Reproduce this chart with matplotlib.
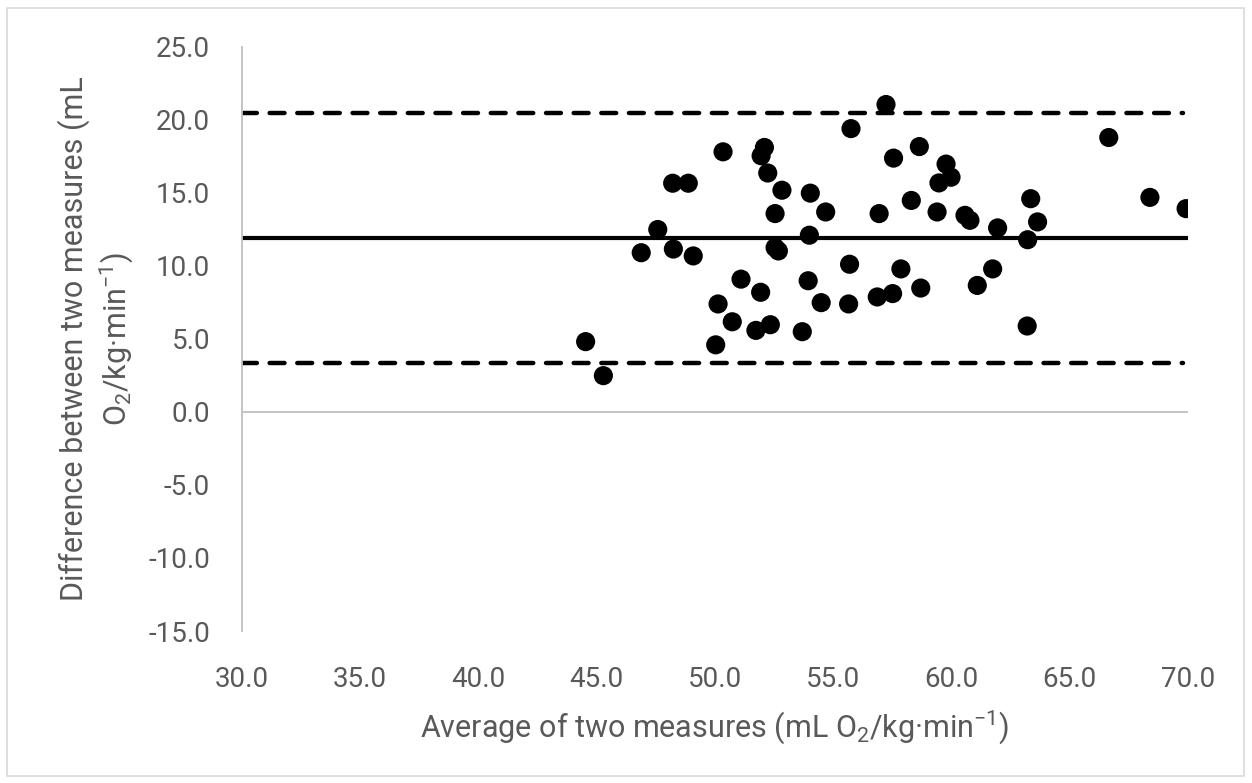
import numpy as np
import matplotlib
matplotlib.use('Agg')
import matplotlib.pyplot as plt
from matplotlib.patches import Rectangle
from matplotlib.ticker import FormatStrFormatter

# Bland-Altman data: average of two measures vs difference
avg = [44.53, 45.28, 46.88, 47.58, 48.24, 49.08, 48.21, 48.87, 50.03, 50.13,
       50.34, 50.73, 51.10, 51.73, 51.93, 51.95, 52.09, 52.23, 52.34, 52.54,
       52.54, 52.68, 52.83, 53.69, 53.94, 53.99, 54.03, 54.49, 54.68, 55.65,
       55.69, 55.75, 56.86, 56.94, 57.23, 57.51, 57.55, 57.86, 58.30, 58.64,
       58.70, 59.39, 59.47, 59.77, 59.98, 60.57, 60.78, 61.09, 61.74, 61.95,
       63.20, 63.22, 63.35, 63.64, 66.65, 68.39, 69.92]
diff = [4.82, 2.49, 10.91, 12.50, 11.16, 10.69, 15.67, 15.67, 4.60, 7.40,
        17.82, 6.18, 9.10, 5.59, 8.20, 17.55, 18.12, 16.37, 5.98, 13.59,
        11.26, 11.03, 15.19, 5.50, 8.99, 12.11, 14.99, 7.49, 13.70, 7.40,
        10.12, 19.41, 7.88, 13.59, 21.06, 8.11, 17.39, 9.80, 14.49, 18.18,
        8.49, 13.70, 15.69, 16.98, 16.08, 13.47, 13.13, 8.67, 9.80, 12.61,
        5.89, 11.80, 14.61, 13.02, 18.80, 14.70, 13.93]

# mean difference and limits of agreement
bias = 11.9
upper_loa = 20.45
lower_loa = 3.35
line_x = [30, 70]
loa_x = [30, 69.8]

xticks = np.arange(30, 71, 5)
yticks = np.arange(-15, 26, 5)

plt.rcParams['font.family'] = 'Roboto'
plt.rcParams['mathtext.fontset'] = 'custom'
plt.rcParams['mathtext.rm'] = 'Roboto'
plt.rcParams['mathtext.it'] = 'Roboto:italic'
plt.rcParams['mathtext.bf'] = 'Roboto:bold'
plt.rcParams['lines.scale_dashes'] = False
plt.rcParams['axes.unicode_minus'] = False

gray_text = '#595959'
gray_line = '#bfbfbf'

fig = plt.figure(figsize=(12.52, 7.83), dpi=100)
ax = fig.add_axes([242 / 1252, 1 - 631 / 783, 946 / 1252, 584 / 783])

ax.axhline(0, color=gray_line, lw=1.3, zorder=1)
ax.plot(line_x, [bias, bias], color='black', lw=3.0, solid_capstyle='butt', zorder=2)
for v in (upper_loa, lower_loa):
    ax.plot(loa_x, [v, v], color='black', lw=3.2, dashes=(10.7, 9.2),
            dash_capstyle='round', zorder=2)
ax.scatter(avg, diff, s=190, color='black', edgecolors='none', zorder=3)

ax.set_xlim(30, 70)
ax.set_ylim(-15, 25)
ax.set_xticks(xticks)
ax.set_yticks(yticks)
ax.xaxis.set_major_formatter(FormatStrFormatter('%.1f'))
ax.yaxis.set_major_formatter(FormatStrFormatter('%.1f'))

for s in ['top', 'right', 'bottom']:
    ax.spines[s].set_visible(False)
ax.spines['left'].set_color(gray_line)
ax.spines['left'].set_linewidth(1.3)

ax.tick_params(length=0, labelsize=20, labelcolor=gray_text)
ax.tick_params(axis='y', pad=23)
ax.tick_params(axis='x', pad=25)

ax.set_xlabel('Average of two measures (mL O$_2$/kg·min$^{-1}$)',
              fontsize=22, color=gray_text, va='baseline')
ax.xaxis.set_label_coords(0.5, (631 - 737) / 584)
ax.set_ylabel('Difference between two measures (mL\nO$_2$/kg·min$^{-1}$)',
              fontsize=22, color=gray_text, linespacing=1.25)
ax.yaxis.set_label_coords(-0.113, 0.5)

fig.patches.append(Rectangle((7 / 1252, 7 / 783), 1237 / 1252, 768 / 783,
                             transform=fig.transFigure, fill=False,
                             edgecolor='#d9d9d9', lw=1.2))

fig.savefig('out.png', dpi=100)
plt.close(fig)
